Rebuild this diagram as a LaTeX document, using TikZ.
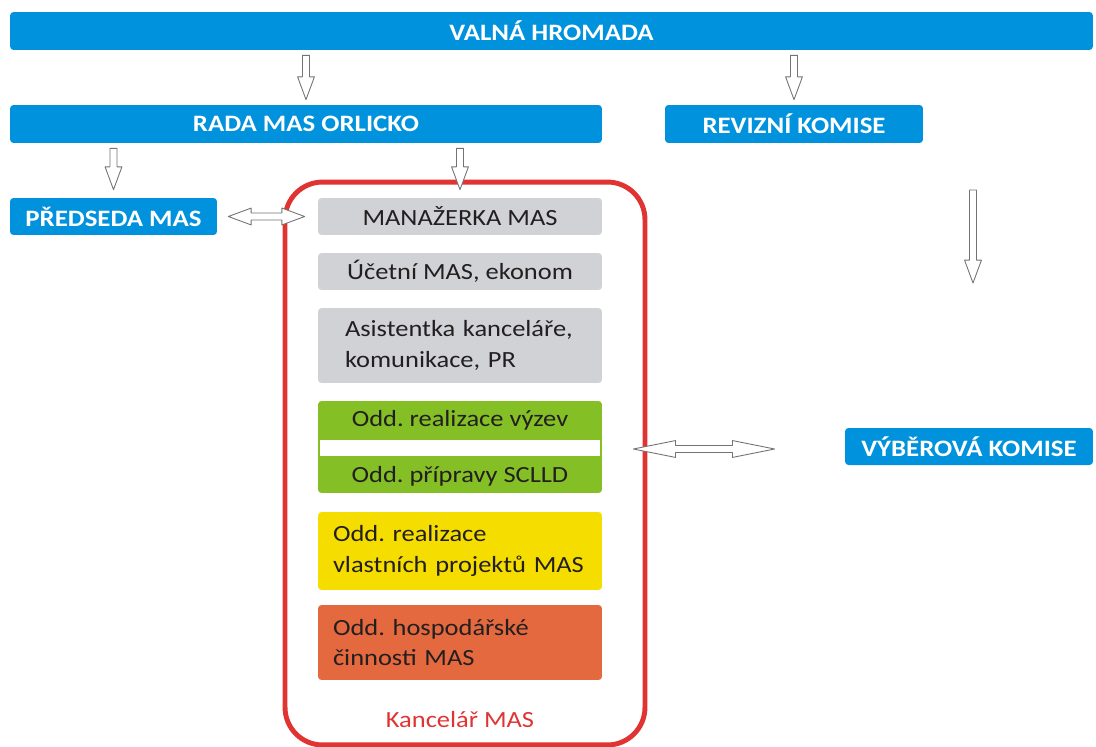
\documentclass[tikz,border=0pt]{standalone}
\usepackage{fontspec}
\setmainfont{Carlito}[FakeStretch=1.14]
\usepackage{xcolor}
\usepackage{tikz}
\usetikzlibrary{calc}
\frenchspacing
\definecolor{masblue}{RGB}{0,146,221}
\definecolor{masgray}{RGB}{209,210,213}
\definecolor{masgreen}{RGB}{132,191,38}
\definecolor{masyellow}{RGB}{245,221,0}
\definecolor{masorange}{RGB}{229,105,62}
\definecolor{masred}{RGB}{224,52,50}
\definecolor{mastext}{RGB}{35,31,32}
\newcommand{\vblock}[2]{%
  \draw[blockarrow] let \p1=(#1), \p2=(#2) in
    (\x1-2pt,\y1) -- (\x1+2pt,\y1) -- (\x1+2pt,\y2+13pt) -- (\x1+4.8pt,\y2+13pt)
    -- (\x1,\y2) -- (\x1-4.8pt,\y2+13pt) -- (\x1-2pt,\y2+13pt) -- cycle;}
\newcommand{\hblock}[3]{%
  \draw[blockarrow] let \p1=(#1), \p2=(#2) in
    (\x1,\y1) -- (\x1+#3,\y1+4.8pt) -- (\x1+#3,\y1+2pt) -- (\x2-#3,\y1+2pt) -- (\x2-#3,\y1+4.8pt)
    -- (\x2,\y1) -- (\x2-#3,\y1-4.8pt) -- (\x2-#3,\y1-2pt) -- (\x1+#3,\y1-2pt) -- (\x1+#3,\y1-4.8pt) -- cycle;}

\begin{document}
\begin{tikzpicture}[x=0.02cm,y=-0.02cm,line join=round,
    font={\fontsize{13.2}{17.5}\selectfont},
    bluebar/.style={fill=masblue,rounded corners=2pt,text=white,font={\fontsize{13.4}{17.5}\selectfont\bfseries},minimum height=0.76cm},
    officebox/.style={rounded corners=2pt,text=mastext,minimum width=5.68cm,minimum height=0.74cm},
    blockarrow/.style={draw=black!55,fill=white,line width=0.5pt},
    kancframe/.style={draw=masred,line width=2.8pt,rounded corners=0.75cm,minimum width=7.2cm,minimum height=11.26cm}]
\useasboundingbox (0,0) rectangle (1096,747);
\node[kancframe] (kancelar) at (465,463.5) {};
\node[bluebar,minimum width=21.66cm] (valna) at (551.5,31) {VALNÁ HROMADA};
\node[bluebar,minimum width=11.84cm] (rada) at (306,124) {RADA MAS ORLICKO};
\node[bluebar,minimum width=5.16cm] (revizni) at (794,124) {REVIZNÍ KOMISE};
\node[bluebar,minimum width=4.14cm,minimum height=0.74cm] (predseda) at (113.5,216.5) {PŘEDSEDA MAS};
\node[bluebar,minimum width=4.96cm,minimum height=0.74cm] (vyberova) at (969,446.5) {VÝBĚROVÁ KOMISE};
\node[officebox,fill=masgray] (manazerka) at (460,216.5) {MANAŽERKA MAS};
\node[officebox,fill=masgray] (ucetni) at (460,271.5) {Účetní MAS, ekonom};
\node[officebox,fill=masgray,minimum height=1.5cm,align=left,text width=4.6cm] (asistentka) at (460,345.5) {Asistentka kanceláře,\\komunikace, PR};
\node[officebox,fill=masgreen,minimum height=1.84cm] (vyzvy) at (460,447) {};
\node[fill=white,minimum width=5.6cm,minimum height=0.32cm,inner sep=0pt] (mezera) at (460,448) {};
\node[text=mastext] (realizace) at (460,420) {Odd. realizace výzev};
\node[text=mastext] (priprava) at (460,476) {Odd. přípravy SCLLD};
\node[officebox,fill=masyellow,minimum height=1.56cm,align=left,text width=5.08cm] (projekty) at (460,551) {Odd. realizace\\vlastních projektů MAS};
\node[officebox,fill=masorange,minimum height=1.5cm,align=left,text width=5.08cm] (hospodarske) at (460,642.5) {Odd. hospodářské\\činnosti MAS};
\node[text=masred] (kanclabel) at (460,720) {Kancelář MAS};
\coordinate (komtop) at (973,190);
\coordinate (kombot) at (973,283);
\vblock{$(valna.south -| rada.north)+(0,5)$}{$(rada.north)+(0,-5)$}
\vblock{$(valna.south -| revizni.north)+(0,5)$}{$(revizni.north)+(0,-5)$}
\vblock{$(rada.south -| predseda.north)+(0,5)$}{$(predseda.north)+(0,-8)$}
\vblock{$(rada.south -| manazerka.north)+(0,5)$}{$(manazerka.north)+(0,-8)$}
\vblock{komtop}{kombot}
\hblock{$(predseda.east)+(11,0)$}{$(manazerka.west)+(-13,0)$}{13pt}
\hblock{$(vyzvy.east)+(31,2)$}{$(vyberova.west)+(-70,0)$}{24pt}
\end{tikzpicture}
\end{document}
